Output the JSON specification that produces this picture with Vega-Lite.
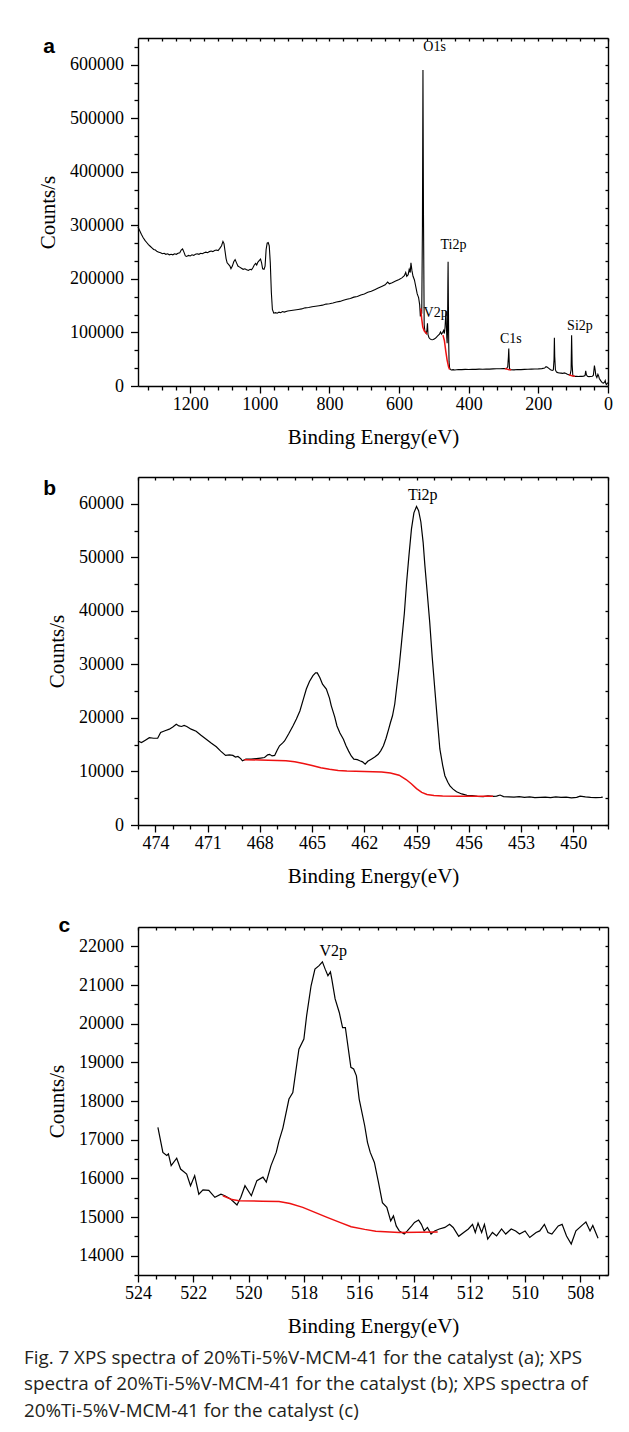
{
  "$schema": "https://vega.github.io/schema/vega-lite/v6.json",
  "padding": {"left": 24, "top": 35, "right": 6, "bottom": 6},
  "spacing": 28,
  "title": {
    "text": ["Fig. 7  XPS spectra of 20%Ti-5%V-MCM-41 for the catalyst (a); XPS", "spectra of 20%Ti-5%V-MCM-41 for the catalyst (b); XPS spectra of", "20%Ti-5%V-MCM-41 for the catalyst (c)"],
    "orient": "bottom", "anchor": "start", "frame": "bounds", "font": "Open Sans", "fontSize": 18.8, "fontWeight": "normal", "color": "#231f20", "lineHeight": 26.5, "offset": 12, "dx": -13.5
  },
  "config": {
    "view": {"stroke": null},
    "axis": {"grid": false, "domainColor": "#000", "domainWidth": 1.4, "tickColor": "#000", "tickWidth": 1.3, "labelColor": "#000", "labelFont": "Liberation Serif", "labelFontSize": 18, "titleFont": "Liberation Serif", "titleFontSize": 21, "titleFontWeight": "normal", "titleColor": "#000"},
    "axisBottom": {"labelPadding": 2, "titlePadding": 13.5},
    "axisLeft": {"labelPadding": 7, "titlePadding": 11}
  },
  "vconcat": [
    {
      "width": 470, "height": 348,
      "resolve": {"axis": {"x": "independent", "y": "independent"}},
      "layer": [
        {
          "data": {"values": [
            {"e":1350,"c":297000},{"e":1345,"c":290000},{"e":1340,"c":283000},{"e":1335,"c":277000},{"e":1330,"c":272000},{"e":1325,"c":268000},{"e":1320,"c":264000},{"e":1315,"c":261000},{"e":1310,"c":258000},{"e":1305,"c":255000},{"e":1300,"c":254000},{"e":1295,"c":251000},{"e":1290,"c":250000},{"e":1285,"c":249000},{"e":1280,"c":247000},{"e":1275,"c":248000},{"e":1270,"c":246000},{"e":1265,"c":247000},{"e":1260,"c":245000},{"e":1255,"c":246000},{"e":1250,"c":245000},{"e":1245,"c":247000},{"e":1240,"c":246000},{"e":1235,"c":248000},{"e":1230,"c":249000},{"e":1226,"c":254000},{"e":1222,"c":256000},{"e":1218,"c":250000},{"e":1214,"c":243000},{"e":1210,"c":242000},{"e":1205,"c":244000},{"e":1200,"c":243000},{"e":1195,"c":245000},{"e":1190,"c":244000},{"e":1185,"c":246000},{"e":1180,"c":247000},{"e":1175,"c":246000},{"e":1170,"c":248000},{"e":1165,"c":247000},{"e":1160,"c":249000},{"e":1155,"c":250000},{"e":1150,"c":249000},{"e":1145,"c":251000},{"e":1140,"c":252000},{"e":1135,"c":251000},{"e":1130,"c":253000},{"e":1125,"c":254000},{"e":1120,"c":253000},{"e":1115,"c":257000},{"e":1110,"c":262000},{"e":1106,"c":270000},{"e":1103,"c":266000},{"e":1100,"c":252000},{"e":1097,"c":238000},{"e":1094,"c":230000},{"e":1090,"c":227000},{"e":1086,"c":224000},{"e":1083,"c":219000},{"e":1079,"c":224000},{"e":1075,"c":232000},{"e":1071,"c":236000},{"e":1067,"c":230000},{"e":1063,"c":224000},{"e":1058,"c":222000},{"e":1053,"c":220000},{"e":1048,"c":218000},{"e":1043,"c":219000},{"e":1038,"c":217000},{"e":1033,"c":216000},{"e":1028,"c":218000},{"e":1024,"c":217000},{"e":1020,"c":221000},{"e":1016,"c":226000},{"e":1012,"c":229000},{"e":1009,"c":226000},{"e":1006,"c":231000},{"e":1002,"c":234000},{"e":998,"c":237000},{"e":995,"c":230000},{"e":992,"c":219000},{"e":988,"c":218000},{"e":985,"c":224000},{"e":982,"c":255000},{"e":979,"c":267000},{"e":976,"c":268000},{"e":973,"c":262000},{"e":970,"c":230000},{"e":967,"c":175000},{"e":964,"c":143000},{"e":960,"c":136000},{"e":955,"c":137000},{"e":950,"c":136000},{"e":945,"c":138000},{"e":940,"c":137000},{"e":935,"c":139000},{"e":930,"c":138000},{"e":920,"c":140000},{"e":910,"c":141000},{"e":900,"c":142000},{"e":890,"c":143000},{"e":880,"c":144000},{"e":870,"c":146000},{"e":860,"c":146500},{"e":850,"c":148000},{"e":840,"c":149000},{"e":830,"c":150000},{"e":820,"c":151000},{"e":810,"c":153000},{"e":800,"c":153500},{"e":790,"c":155000},{"e":780,"c":157000},{"e":770,"c":158000},{"e":760,"c":160000},{"e":750,"c":162000},{"e":740,"c":163500},{"e":730,"c":166000},{"e":720,"c":167000},{"e":710,"c":170000},{"e":700,"c":172000},{"e":690,"c":175000},{"e":680,"c":177000},{"e":670,"c":180000},{"e":660,"c":183000},{"e":650,"c":186000},{"e":640,"c":189000},{"e":633,"c":194000},{"e":628,"c":191000},{"e":620,"c":193000},{"e":610,"c":196000},{"e":600,"c":199000},{"e":592,"c":202000},{"e":585,"c":206000},{"e":581,"c":212000},{"e":578,"c":205000},{"e":574,"c":208000},{"e":571,"c":218000},{"e":568,"c":212000},{"e":566,"c":230000},{"e":563,"c":215000},{"e":560,"c":205000},{"e":556,"c":198000},{"e":552,"c":185000},{"e":548,"c":172000},{"e":544,"c":165000},{"e":541,"c":152000},{"e":539,"c":130000},{"e":537,"c":142000},{"e":535,"c":135000},{"e":533,"c":300000},{"e":531.5,"c":590000},{"e":530,"c":320000},{"e":528,"c":115000},{"e":526,"c":102000},{"e":524,"c":100000},{"e":522,"c":98000},{"e":520,"c":105000},{"e":518.5,"c":117000},{"e":517,"c":96000},{"e":514,"c":90000},{"e":511,"c":88000},{"e":508,"c":87000},{"e":505,"c":86500},{"e":502,"c":87000},{"e":499,"c":88000},{"e":496,"c":89000},{"e":493,"c":91000},{"e":490,"c":93000},{"e":487,"c":95000},{"e":484,"c":97000},{"e":481,"c":101000},{"e":478,"c":97000},{"e":475,"c":100000},{"e":472,"c":104000},{"e":470,"c":98000},{"e":468,"c":110000},{"e":466.5,"c":128000},{"e":465.5,"c":140000},{"e":464.5,"c":120000},{"e":463,"c":90000},{"e":462,"c":80000},{"e":461,"c":100000},{"e":460,"c":190000},{"e":459.3,"c":232000},{"e":458.5,"c":160000},{"e":457.5,"c":80000},{"e":456.5,"c":45000},{"e":455,"c":34000},{"e":453,"c":31000},{"e":450,"c":30000},{"e":445,"c":30500},{"e":440,"c":30000},{"e":430,"c":30800},{"e":420,"c":30500},{"e":410,"c":31000},{"e":400,"c":30800},{"e":390,"c":31200},{"e":380,"c":31000},{"e":370,"c":31500},{"e":360,"c":31300},{"e":350,"c":31800},{"e":340,"c":31600},{"e":330,"c":32000},{"e":320,"c":32300},{"e":310,"c":32100},{"e":300,"c":32500},{"e":292,"c":32200},{"e":288,"c":36000},{"e":286,"c":55000},{"e":285,"c":70000},{"e":284,"c":50000},{"e":283,"c":33000},{"e":280,"c":30500},{"e":270,"c":30200},{"e":260,"c":30800},{"e":250,"c":30500},{"e":240,"c":31000},{"e":230,"c":31200},{"e":220,"c":31500},{"e":210,"c":31800},{"e":200,"c":32000},{"e":190,"c":32500},{"e":182,"c":33500},{"e":178,"c":36000},{"e":174,"c":35000},{"e":170,"c":33000},{"e":165,"c":30500},{"e":160,"c":29000},{"e":157,"c":30000},{"e":155,"c":50000},{"e":154,"c":90000},{"e":153,"c":55000},{"e":151,"c":30000},{"e":148,"c":26000},{"e":144,"c":25000},{"e":140,"c":24500},{"e":135,"c":24000},{"e":130,"c":23500},{"e":126,"c":24500},{"e":122,"c":24000},{"e":118,"c":22500},{"e":113,"c":21000},{"e":109,"c":20500},{"e":106,"c":30000},{"e":104.5,"c":95000},{"e":103,"c":40000},{"e":101,"c":19000},{"e":98,"c":18500},{"e":94,"c":18000},{"e":90,"c":18200},{"e":85,"c":17800},{"e":80,"c":18300},{"e":75,"c":18000},{"e":70,"c":18500},{"e":66,"c":19500},{"e":64,"c":28500},{"e":62,"c":21000},{"e":59,"c":18000},{"e":55,"c":17500},{"e":50,"c":17800},{"e":45,"c":18200},{"e":42,"c":20000},{"e":39,"c":38000},{"e":37,"c":30000},{"e":35,"c":20000},{"e":32,"c":16000},{"e":29,"c":22000},{"e":27,"c":19000},{"e":25,"c":14000},{"e":22,"c":11000},{"e":19,"c":8000},{"e":16,"c":6000},{"e":13,"c":5500},{"e":10,"c":7000},{"e":8,"c":10000},{"e":6,"c":4000},{"e":4,"c":3000},{"e":2,"c":5000},{"e":0,"c":6000}
          ]},
          "mark": {"type": "line", "color": "#000", "strokeWidth": 1.1},
          "encoding": {
            "x": {"field": "e", "type": "quantitative", "scale": {"domain": [0, 1350], "reverse": true, "nice": false, "zero": false},
              "axis": {"orient": "bottom", "title": "Binding Energy(eV)", "format": "d", "labelOverlap": false, "labelFlush": false, "values": [0,200,400,600,800,1000,1200], "tickSize": 7}},
            "y": {"field": "c", "type": "quantitative", "scale": {"domain": [0, 650000], "nice": false},
              "axis": {"orient": "left", "title": "Counts/s", "format": "d", "labelOverlap": false, "labelFlush": false, "values": [0,100000,200000,300000,400000,500000,600000], "tickSize": 7.5}}
          }
        },
        {
          "data": {"values": [
            {"s":1,"e":538,"c":145000},{"s":1,"e":535,"c":125000},{"s":1,"e":532,"c":110000},{"s":1,"e":528,"c":103000},{"s":1,"e":524,"c":100000},{"s":1,"e":520,"c":97000},
            {"s":2,"e":474,"c":95000},{"s":2,"e":470,"c":85000},{"s":2,"e":466,"c":65000},{"s":2,"e":462,"c":48000},{"s":2,"e":458,"c":36000},{"s":2,"e":455,"c":31000},
            {"s":3,"e":296,"c":32500},{"s":3,"e":290,"c":31500},{"s":3,"e":284,"c":30500},{"s":3,"e":278,"c":30200},
            {"s":4,"e":112,"c":21000},{"s":4,"e":106,"c":19500},{"s":4,"e":100,"c":18500},{"s":4,"e":95,"c":18000}
          ]},
          "mark": {"type": "line", "color": "#ee1111", "strokeWidth": 1.5},
          "encoding": {
            "detail": {"field": "s", "type": "nominal"},
            "x": {"field": "e", "type": "quantitative", "scale": {"domain": [0, 1350], "reverse": true, "nice": false, "zero": false},
              "axis": {"orient": "top", "title": null, "labels": false, "tickSize": -3, "values": [0,40,80,120,160,200,240,280,320,360,400,440,480,520,560,600,640,680,720,760,800,840,880,920,960,1000,1040,1080,1120,1160,1200,1240,1280,1320]}},
            "y": {"field": "c", "type": "quantitative", "scale": {"domain": [0, 650000], "nice": false},
              "axis": {"orient": "right", "title": null, "labels": false, "tickSize": -3, "values": [0,33333.33,66666.67,100000,133333.33,166666.67,200000,233333.33,266666.67,300000,333333.33,366666.67,400000,433333.33,466666.67,500000,533333.33,566666.67,600000,633333.33]}}
          }
        },
        {
          "data": {"values": [
            {"e":498,"c":626000,"t":"O1s"},{"e":444,"c":256600,"t":"Ti2p"},{"e":495,"c":129100,"t":"V2p"},{"e":279,"c":79500,"t":"C1s"},{"e":80.6,"c":104300,"t":"Si2p"}
          ]},
          "mark": {"type": "text", "font": "Liberation Serif", "fontSize": 14, "align": "center", "baseline": "alphabetic", "color": "#000"},
          "encoding": {
            "x": {"field": "e", "type": "quantitative", "scale": {"domain": [0, 1350], "reverse": true, "nice": false, "zero": false},
              "axis": {"orient": "bottom", "title": null, "labels": false, "domain": false, "tickSize": 4, "values": [40,80,120,160,240,280,320,360,440,480,520,560,640,680,720,760,840,880,920,960,1040,1080,1120,1160,1240,1280,1320]}},
            "y": {"field": "c", "type": "quantitative", "scale": {"domain": [0, 650000], "nice": false},
              "axis": {"orient": "left", "title": null, "labels": false, "domain": false, "tickSize": 4, "values": [33333.33,66666.67,133333.33,166666.67,233333.33,266666.67,333333.33,366666.67,433333.33,466666.67,533333.33,566666.67,633333.33]}},
            "text": {"field": "t"}
          }
        },
        {
          "data": {"values": [{"e":1622,"c":622300,"t":"a"}]},
          "mark": {"type": "text", "font": "Liberation Sans", "fontWeight": "bold", "fontSize": 21, "align": "left", "baseline": "alphabetic", "color": "#000"},
          "encoding": {
            "x": {"field": "e", "type": "quantitative", "scale": {"domain": [0, 1350], "reverse": true, "nice": false, "zero": false}, "axis": null},
            "y": {"field": "c", "type": "quantitative", "scale": {"domain": [0, 650000], "nice": false}, "axis": null},
            "text": {"field": "t"}
          }
        }
      ]
    },
    {
      "width": 470, "height": 348,
      "resolve": {"axis": {"x": "independent", "y": "independent"}},
      "layer": [
        {
          "data": {"values": [
            {"e":475,"c":15700},{"e":474.8,"c":15400},{"e":474.6,"c":15800},{"e":474.35,"c":16300},{"e":474.1,"c":16200},{"e":473.87,"c":16200},{"e":473.7,"c":17300},{"e":473.45,"c":17600},{"e":473.2,"c":17900},{"e":473,"c":18300},{"e":472.8,"c":18800},{"e":472.65,"c":18500},{"e":472.5,"c":18400},{"e":472.35,"c":18600},{"e":472.2,"c":18400},{"e":471.95,"c":17900},{"e":471.66,"c":17500},{"e":471.4,"c":16800},{"e":471.08,"c":16000},{"e":470.8,"c":15300},{"e":470.5,"c":14600},{"e":470.25,"c":13800},{"e":469.97,"c":13000},{"e":469.75,"c":13100},{"e":469.55,"c":13000},{"e":469.4,"c":12700},{"e":469.26,"c":12800},{"e":469.1,"c":12400},{"e":469,"c":12000},{"e":468.8,"c":12300},{"e":468.5,"c":12300},{"e":468.2,"c":12400},{"e":467.95,"c":12500},{"e":467.73,"c":12600},{"e":467.55,"c":13100},{"e":467.44,"c":13200},{"e":467.3,"c":12900},{"e":467.15,"c":13000},{"e":467,"c":14000},{"e":466.87,"c":14800},{"e":466.7,"c":15300},{"e":466.58,"c":15700},{"e":466.35,"c":17000},{"e":466.1,"c":18500},{"e":465.9,"c":19800},{"e":465.7,"c":21300},{"e":465.5,"c":23500},{"e":465.33,"c":25400},{"e":465.15,"c":26800},{"e":464.95,"c":27900},{"e":464.8,"c":28400},{"e":464.7,"c":28400},{"e":464.55,"c":27500},{"e":464.4,"c":26300},{"e":464.18,"c":25400},{"e":464,"c":23700},{"e":463.9,"c":22300},{"e":463.7,"c":20200},{"e":463.57,"c":18500},{"e":463.4,"c":17200},{"e":463.2,"c":16000},{"e":463.05,"c":14800},{"e":462.9,"c":13800},{"e":462.75,"c":12900},{"e":462.6,"c":12300},{"e":462.4,"c":12200},{"e":462.26,"c":12000},{"e":462.1,"c":11800},{"e":461.95,"c":11350},{"e":461.8,"c":11900},{"e":461.6,"c":12300},{"e":461.4,"c":12700},{"e":461.2,"c":13200},{"e":461.05,"c":13900},{"e":460.9,"c":14800},{"e":460.75,"c":16200},{"e":460.6,"c":17900},{"e":460.5,"c":19100},{"e":460.38,"c":20400},{"e":460.25,"c":22600},{"e":460.15,"c":25400},{"e":460,"c":29500},{"e":459.86,"c":34100},{"e":459.7,"c":39500},{"e":459.57,"c":45300},{"e":459.43,"c":50500},{"e":459.29,"c":55300},{"e":459.15,"c":58300},{"e":459,"c":59500},{"e":458.88,"c":58700},{"e":458.75,"c":56600},{"e":458.62,"c":52800},{"e":458.52,"c":48500},{"e":458.38,"c":43200},{"e":458.24,"c":37800},{"e":458.1,"c":31400},{"e":457.95,"c":25400},{"e":457.8,"c":19500},{"e":457.66,"c":14200},{"e":457.5,"c":11200},{"e":457.37,"c":9200},{"e":457.2,"c":8000},{"e":457.08,"c":7300},{"e":456.9,"c":6700},{"e":456.7,"c":6200},{"e":456.4,"c":5800},{"e":456.1,"c":5550},{"e":455.8,"c":5500},{"e":455.5,"c":5350},{"e":455.17,"c":5300},{"e":454.9,"c":5450},{"e":454.6,"c":5350},{"e":454.4,"c":5400},{"e":454.2,"c":5600},{"e":454,"c":5300},{"e":453.7,"c":5250},{"e":453.4,"c":5200},{"e":453.1,"c":5300},{"e":452.8,"c":5150},{"e":452.5,"c":5250},{"e":452.2,"c":5100},{"e":451.9,"c":5150},{"e":451.6,"c":5200},{"e":451.3,"c":5100},{"e":451,"c":5250},{"e":450.7,"c":5150},{"e":450.4,"c":5200},{"e":450.1,"c":5050},{"e":449.8,"c":5150},{"e":449.6,"c":5400},{"e":449.3,"c":5250},{"e":449,"c":5150},{"e":448.7,"c":5100},{"e":448.4,"c":5150},{"e":448.3,"c":5200}
          ]},
          "mark": {"type": "line", "color": "#000", "strokeWidth": 1.2},
          "encoding": {
            "x": {"field": "e", "type": "quantitative", "scale": {"domain": [448, 475], "reverse": true, "nice": false, "zero": false},
              "axis": {"orient": "bottom", "title": "Binding Energy(eV)", "format": "d", "labelOverlap": false, "labelFlush": false, "values": [450,453,456,459,462,465,468,471,474], "tickSize": 7}},
            "y": {"field": "c", "type": "quantitative", "scale": {"domain": [0, 65000], "nice": false},
              "axis": {"orient": "left", "title": "Counts/s", "format": "d", "labelOverlap": false, "labelFlush": false, "values": [0,10000,20000,30000,40000,50000,60000], "tickSize": 7.5}}
          }
        },
        {
          "data": {"values": [
            {"e":468.9,"c":12200},{"e":468,"c":12150},{"e":467,"c":12050},{"e":466.5,"c":12000},{"e":466,"c":11800},{"e":465.5,"c":11500},{"e":465,"c":11100},{"e":464.5,"c":10700},{"e":464,"c":10400},{"e":463.5,"c":10200},{"e":463,"c":10100},{"e":462,"c":10000},{"e":461,"c":9900},{"e":460.5,"c":9700},{"e":460,"c":9300},{"e":459.6,"c":8500},{"e":459.3,"c":7700},{"e":459,"c":6800},{"e":458.7,"c":6100},{"e":458.4,"c":5700},{"e":458,"c":5500},{"e":457.5,"c":5400},{"e":456.5,"c":5350},{"e":455.5,"c":5350},{"e":454.6,"c":5350}
          ]},
          "mark": {"type": "line", "color": "#ee1111", "strokeWidth": 1.5},
          "encoding": {
            "x": {"field": "e", "type": "quantitative", "scale": {"domain": [448, 475], "reverse": true, "nice": false, "zero": false},
              "axis": {"orient": "top", "title": null, "labels": false, "tickSize": -3, "values": [448,449,450,451,452,453,454,455,456,457,458,459,460,461,462,463,464,465,466,467,468,469,470,471,472,473,474,475]}},
            "y": {"field": "c", "type": "quantitative", "scale": {"domain": [0, 65000], "nice": false},
              "axis": {"orient": "right", "title": null, "labels": false, "tickSize": -3, "values": [0,5000,10000,15000,20000,25000,30000,35000,40000,45000,50000,55000,60000]}}
          }
        },
        {
          "data": {"values": [{"e":458.64,"c":60620,"t":"Ti2p"}]},
          "mark": {"type": "text", "font": "Liberation Serif", "fontSize": 16, "align": "center", "baseline": "alphabetic", "color": "#000"},
          "encoding": {
            "x": {"field": "e", "type": "quantitative", "scale": {"domain": [448, 475], "reverse": true, "nice": false, "zero": false},
              "axis": {"orient": "bottom", "title": null, "labels": false, "domain": false, "tickSize": 4, "values": [448,449,451,452,454,455,457,458,460,461,463,464,466,467,469,470,472,473,475]}},
            "y": {"field": "c", "type": "quantitative", "scale": {"domain": [0, 65000], "nice": false},
              "axis": {"orient": "left", "title": null, "labels": false, "domain": false, "tickSize": 4, "values": [5000,15000,25000,35000,45000,55000]}},
            "text": {"field": "t"}
          }
        },
        {
          "data": {"values": [{"e":480.45,"c":61553,"t":"b"}]},
          "mark": {"type": "text", "font": "Liberation Sans", "fontWeight": "bold", "fontSize": 21, "align": "left", "baseline": "alphabetic", "color": "#000"},
          "encoding": {
            "x": {"field": "e", "type": "quantitative", "scale": {"domain": [448, 475], "reverse": true, "nice": false, "zero": false}, "axis": null},
            "y": {"field": "c", "type": "quantitative", "scale": {"domain": [0, 65000], "nice": false}, "axis": null},
            "text": {"field": "t"}
          }
        }
      ]
    },
    {
      "width": 470, "height": 348,
      "resolve": {"axis": {"x": "independent", "y": "independent"}},
      "layer": [
        {
          "data": {"values": [
            {"e":523.28,"c":17320},{"e":523.1,"c":16670},{"e":522.96,"c":16590},{"e":522.9,"c":16630},{"e":522.8,"c":16330},{"e":522.6,"c":16520},{"e":522.46,"c":16240},{"e":522.24,"c":16110},{"e":522.1,"c":15810},{"e":521.95,"c":16070},{"e":521.8,"c":15590},{"e":521.65,"c":15700},{"e":521.44,"c":15690},{"e":521.22,"c":15510},{"e":521,"c":15590},{"e":520.86,"c":15550},{"e":520.64,"c":15460},{"e":520.42,"c":15310},{"e":520.28,"c":15510},{"e":520.13,"c":15810},{"e":519.9,"c":15550},{"e":519.7,"c":15940},{"e":519.48,"c":16030},{"e":519.36,"c":15900},{"e":519.19,"c":16330},{"e":519,"c":16670},{"e":518.9,"c":16970},{"e":518.76,"c":17300},{"e":518.54,"c":18050},{"e":518.4,"c":18220},{"e":518.18,"c":19340},{"e":518,"c":19600},{"e":517.9,"c":20210},{"e":517.74,"c":20980},{"e":517.6,"c":21410},{"e":517.45,"c":21500},{"e":517.33,"c":21600},{"e":517.23,"c":21410},{"e":517.13,"c":21240},{"e":517.04,"c":21340},{"e":516.99,"c":21150},{"e":516.87,"c":20640},{"e":516.72,"c":20290},{"e":516.6,"c":19900},{"e":516.5,"c":19900},{"e":516.3,"c":18870},{"e":516.2,"c":18830},{"e":516.1,"c":18650},{"e":516,"c":18050},{"e":515.8,"c":17360},{"e":515.7,"c":16930},{"e":515.6,"c":16670},{"e":515.45,"c":16410},{"e":515.3,"c":15890},{"e":515.16,"c":15370},{"e":515,"c":15250},{"e":514.86,"c":14900},{"e":514.76,"c":15030},{"e":514.66,"c":14770},{"e":514.55,"c":14640},{"e":514.37,"c":14560},{"e":514.26,"c":14640},{"e":514.1,"c":14770},{"e":514,"c":14860},{"e":513.85,"c":14920},{"e":513.75,"c":14810},{"e":513.65,"c":14640},{"e":513.53,"c":14730},{"e":513.4,"c":14560},{"e":513.27,"c":14640},{"e":513.1,"c":14690},{"e":512.9,"c":14730},{"e":512.73,"c":14810},{"e":512.6,"c":14730},{"e":512.4,"c":14500},{"e":512.22,"c":14600},{"e":512.05,"c":14690},{"e":511.9,"c":14810},{"e":511.8,"c":14600},{"e":511.7,"c":14840},{"e":511.57,"c":14600},{"e":511.47,"c":14810},{"e":511.35,"c":14430},{"e":511.18,"c":14600},{"e":511.03,"c":14510},{"e":510.85,"c":14690},{"e":510.7,"c":14560},{"e":510.5,"c":14690},{"e":510.34,"c":14640},{"e":510.2,"c":14560},{"e":510,"c":14640},{"e":509.83,"c":14470},{"e":509.6,"c":14600},{"e":509.47,"c":14640},{"e":509.3,"c":14810},{"e":509.17,"c":14600},{"e":509.03,"c":14560},{"e":508.8,"c":14770},{"e":508.66,"c":14810},{"e":508.5,"c":14510},{"e":508.33,"c":14300},{"e":508.16,"c":14640},{"e":507.9,"c":14810},{"e":507.8,"c":14870},{"e":507.65,"c":14640},{"e":507.55,"c":14780},{"e":507.36,"c":14450}
          ]},
          "mark": {"type": "line", "color": "#000", "strokeWidth": 1.2},
          "encoding": {
            "x": {"field": "e", "type": "quantitative", "scale": {"domain": [507, 524], "reverse": true, "nice": false, "zero": false},
              "axis": {"orient": "bottom", "title": "Binding Energy(eV)", "format": "d", "labelOverlap": false, "labelFlush": false, "values": [508,510,512,514,516,518,520,522,524], "tickSize": 7}},
            "y": {"field": "c", "type": "quantitative", "scale": {"domain": [13500, 22500], "nice": false, "zero": false},
              "axis": {"orient": "left", "title": "Counts/s", "format": "d", "labelOverlap": false, "labelFlush": false, "values": [14000,15000,16000,17000,18000,19000,20000,21000,22000], "tickSize": 7.5}}
          }
        },
        {
          "data": {"values": [
            {"e":520.93,"c":15550},{"e":520.6,"c":15450},{"e":520.35,"c":15420},{"e":519.5,"c":15410},{"e":518.9,"c":15400},{"e":518.5,"c":15350},{"e":518.04,"c":15250},{"e":517.6,"c":15120},{"e":517.16,"c":14990},{"e":516.7,"c":14860},{"e":516.29,"c":14750},{"e":515.8,"c":14680},{"e":515.4,"c":14630},{"e":514.55,"c":14600},{"e":513.16,"c":14610}
          ]},
          "mark": {"type": "line", "color": "#ee1111", "strokeWidth": 1.5},
          "encoding": {
            "x": {"field": "e", "type": "quantitative", "scale": {"domain": [507, 524], "reverse": true, "nice": false, "zero": false},
              "axis": {"orient": "top", "title": null, "labels": false, "tickSize": -3, "values": [524,523.3333,522.6667,522,521.3333,520.6667,520,519.3333,518.6667,518,517.3333,516.6667,516,515.3333,514.6667,514,513.3333,512.6667,512,511.3333,510.6667,510,509.3333,508.6667,508,507.3333]}},
            "y": {"field": "c", "type": "quantitative", "scale": {"domain": [13500, 22500], "nice": false, "zero": false},
              "axis": {"orient": "right", "title": null, "labels": false, "tickSize": -3, "values": [13500,14000,14500,15000,15500,16000,16500,17000,17500,18000,18500,19000,19500,20000,20500,21000,21500,22000]}}
          }
        },
        {
          "data": {"values": [{"e":516.94,"c":21759,"t":"V2p"}]},
          "mark": {"type": "text", "font": "Liberation Serif", "fontSize": 16, "align": "center", "baseline": "alphabetic", "color": "#000"},
          "encoding": {
            "x": {"field": "e", "type": "quantitative", "scale": {"domain": [507, 524], "reverse": true, "nice": false, "zero": false},
              "axis": {"orient": "bottom", "title": null, "labels": false, "domain": false, "tickSize": 4, "values": [523.3333,522.6667,521.3333,520.6667,519.3333,518.6667,517.3333,516.6667,515.3333,514.6667,513.3333,512.6667,511.3333,510.6667,509.3333,508.6667,507.3333]}},
            "y": {"field": "c", "type": "quantitative", "scale": {"domain": [13500, 22500], "nice": false, "zero": false},
              "axis": {"orient": "left", "title": null, "labels": false, "domain": false, "tickSize": 4, "values": [13500,14500,15500,16500,17500,18500,19500,20500,21500]}},
            "text": {"field": "t"}
          }
        },
        {
          "data": {"values": [{"e":526.88,"c":22362,"t":"c"}]},
          "mark": {"type": "text", "font": "Liberation Sans", "fontWeight": "bold", "fontSize": 21, "align": "left", "baseline": "alphabetic", "color": "#000"},
          "encoding": {
            "x": {"field": "e", "type": "quantitative", "scale": {"domain": [507, 524], "reverse": true, "nice": false, "zero": false}, "axis": null},
            "y": {"field": "c", "type": "quantitative", "scale": {"domain": [13500, 22500], "nice": false, "zero": false}, "axis": null},
            "text": {"field": "t"}
          }
        }
      ]
    }
  ]
}
